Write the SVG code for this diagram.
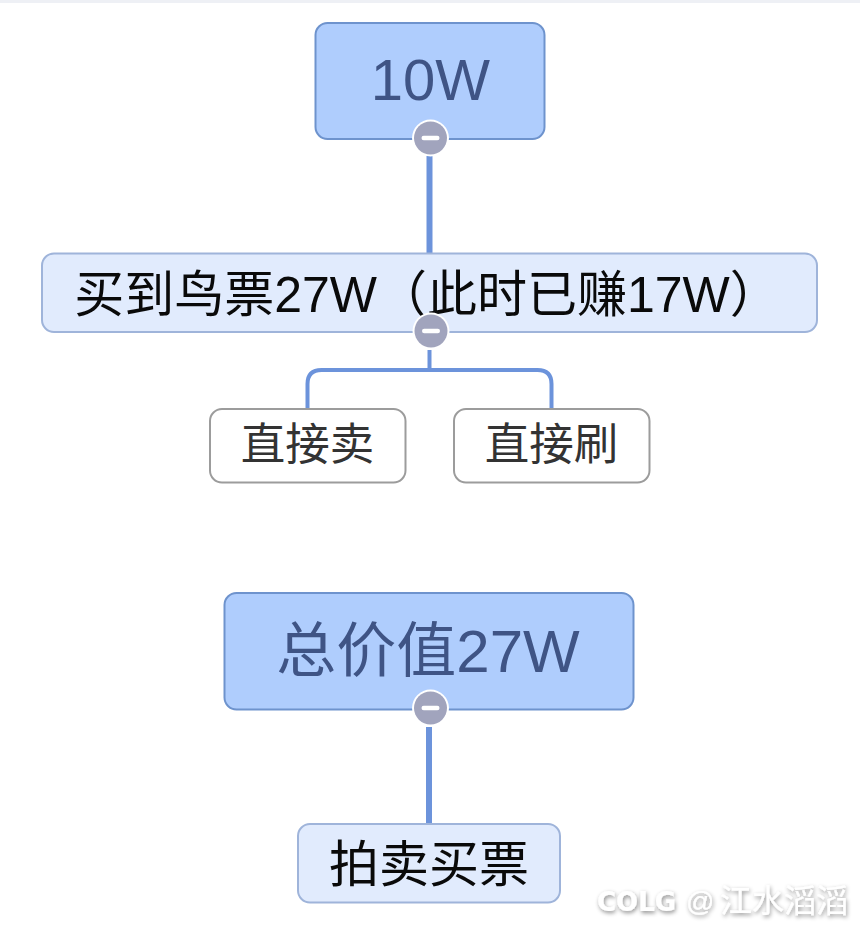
<svg xmlns="http://www.w3.org/2000/svg" width="860" height="937" viewBox="0 0 860 937">
<defs>
<filter id="sh" x="-10%" y="-30%" width="120%" height="170%"><feDropShadow dx="1" dy="2" stdDeviation="2" flood-color="#000" flood-opacity="0.45"/></filter>
<g id="toggle"><circle r="18.500" fill="#fff"/><circle r="16.500" fill="#a1a4bd"/><rect x="-9" y="-2.200" width="18" height="4.400" rx="2.200" fill="#fff"/></g>
</defs>
<style>
text{font-family:"Liberation Sans","Noto Sans CJK SC",sans-serif;text-anchor:middle}
.conn{fill:none;stroke:#6c93db;stroke-width:6}
.branch{fill:none;stroke:#6c93db;stroke-width:4}
.main{fill:#afcdfd;stroke:#6e93cd;stroke-width:2}
.sub{fill:#e1ebfd;stroke:#9fb4da;stroke-width:2}
.leaf{fill:#fff;stroke:#9c9c9c;stroke-width:2}
.t1{font-size:58px;fill:#3f5485}
.t1b{font-size:60px;fill:#3f5485}
.t2{font-size:50px;fill:#0a0a0a}
.t3{font-size:44.500px;fill:#333}
</style>
<rect width="860" height="937" fill="#fff"/>
<rect width="860" height="3" fill="#eef0f5"/>
<g id="connectors">
<path class="conn" d="M429.500 156V253"/>
<path class="branch" d="M429.500 350V370"/>
<path class="branch" d="M307.500 409V384Q307.500 370 321.500 370H537.500Q551.500 370 551.500 384V409"/>
<path class="conn" d="M429 727V824"/>
</g>
<g id="node-10w"><rect class="main" x="315.500" y="23" width="229" height="116" rx="12"/><text class="t1" x="430.500" y="100">10W</text></g>
<g id="node-buy"><rect class="sub" x="42" y="253.500" width="775" height="78.500" rx="12"/><text class="t2" x="427" y="312">买到鸟票27W（此时已赚17W）</text></g>
<g id="node-sell"><rect class="leaf" x="210" y="409" width="195.500" height="73.500" rx="12"/><text class="t3" x="307.500" y="460">直接卖</text></g>
<g id="node-flip"><rect class="leaf" x="454" y="409" width="195.500" height="73.500" rx="12"/><text class="t3" x="551.500" y="460">直接刷</text></g>
<g id="node-total"><rect class="main" x="224.500" y="593" width="409" height="116.500" rx="12"/><text class="t1b" x="428" y="672">总价值27W</text></g>
<g id="node-auction"><rect class="sub" x="298" y="824" width="262" height="78.500" rx="12"/><text class="t2" x="429" y="882">拍卖买票</text></g>
<use href="#toggle" x="430.500" y="138"/>
<use href="#toggle" x="431" y="331"/>
<use href="#toggle" x="430.500" y="708"/>
<g id="watermark" filter="url(#sh)"><text x="597" y="911" style="font-size:26px;font-weight:bold;font-family:'DejaVu Sans',sans-serif;text-anchor:start" fill="#fff">COLG</text><text x="686" y="911" style="font-size:28px;text-anchor:start" fill="#fff">@</text><text x="784" y="912" style="font-size:32px" fill="#fff">江水滔滔</text></g>
</svg>
